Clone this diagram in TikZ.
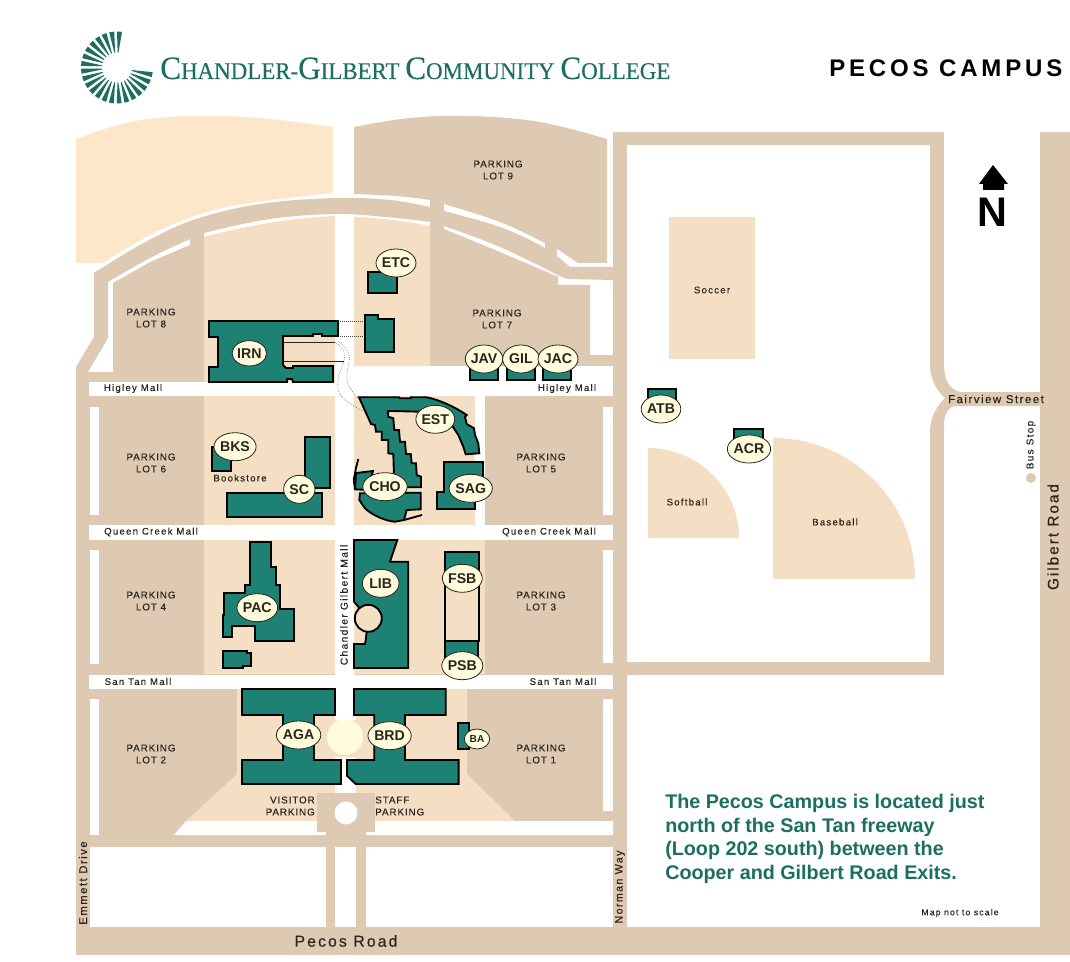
\documentclass[tikz,border=0pt]{standalone}
\usepackage{fontspec}
\usetikzlibrary{shapes.geometric}
\setmainfont{Liberation Sans}
\newfontfamily\lblf[LetterSpace=9,FakeBold=0.25]{Liberation Sans}
\newfontfamily\lblwf[LetterSpace=13,FakeBold=0.25]{Liberation Sans}
\newfontfamily\headf[LetterSpace=16]{Liberation Sans}
\newfontfamily\serf[FakeBold=0.2]{Liberation Serif}
\definecolor{tanroad}{HTML}{DEC9B2}
\definecolor{peach}{HTML}{F5DFC4}
\definecolor{peachlt}{HTML}{FEE6CB}
\definecolor{teal1}{HTML}{1D8173}
\definecolor{teal2}{HTML}{1C6F60}
\definecolor{cream}{HTML}{FFFBDD}
\definecolor{ink}{HTML}{2B241C}
\tikzset{
  roadfill/.style={fill=tanroad,draw=none},
  peachfill/.style={fill=peach,draw=none},
  whitefill/.style={fill=white,draw=none},
  bldg/.style={fill=teal1,draw=black,line width=1.4pt,line join=miter},
  tagel/.style={ellipse,draw=ink,line width=.6pt,fill=cream,inner sep=0pt,minimum width=27.5pt,minimum height=21pt,font=\fontsize{10.6}{12}\selectfont\bfseries,text=ink},
  tagsm/.style={tagel,minimum width=19pt,minimum height=15pt,font=\fontsize{7.6}{9}\selectfont\bfseries},
  lot/.style={align=center,text=ink,inner sep=0pt,font=\lblf\fontsize{7.4}{9}\selectfont},
  mall/.style={text=ink,inner sep=0pt,font=\lblwf\fontsize{7.2}{8}\selectfont},
}
\begin{document}
\begin{tikzpicture}[x=0.75pt,y=-0.75pt]
\useasboundingbox (0,0) rectangle (1070,962);
\fill[white] (0,0) rectangle (1070,962);
% top-left light lot
\fill[peachlt] (76,139) -- plot[smooth,tension=.6] coordinates {(76,139) (130,122) (190,116) (260,118) (333,127)} -- (333,193) -- plot[smooth,tension=.6] coordinates {(333,193) (227,207) (160,230) (103,263)} -- (76,263) -- cycle;
% lot 9
\fill[roadfill] (354,127) -- plot[smooth,tension=.6] coordinates {(354,127) (410,118) (470,116) (540,122) (607,139)} -- (607,263) -- (578,263) -- plot[smooth,tension=.6] coordinates {(578,263) (557,249) (545,243) (500,222) (444,204) (430,200) (395,196) (354,194)} -- cycle;
% ring road
\fill[roadfill] (76,372) -- (76,367) -- (94,337) -- (94,273) -- plot[smooth,tension=.6] coordinates {(94,273) (140,245) (193,220) (260,204) (335,198) (390,200) (430,207) (444,211) (500,227) (545,248) (570,267)} -- (613,267) -- (613,280) -- (568,279) -- plot[smooth,tension=.6] coordinates {(568,279) (558,275) (500,247) (444,226) (430,222) (385,217) (335,214) (270,219) (204,233) (190,239) (150,258) (108,282)} -- (108,338) -- (88,372) -- cycle;
% connectors through the road
\fill[roadfill] (430,198) rectangle (444,232);
\fill[roadfill] (545,241) rectangle (557,258);
% lot 8, lot 7
\fill[roadfill] (113,283) -- (150,262) -- (190,245) -- (190,233) -- (204,233) -- (204,382) -- (113,382) -- cycle;
\fill[roadfill] (430,226) -- (444,229) -- (500,252) -- (556,276) -- (558,276) -- (558,285) -- (590,285) -- (590,355) -- (613,355) -- (613,366) -- (430,366) -- cycle;
% campus base
\fill[roadfill] (76,372) rectangle (627,847);
\fill[roadfill] (76,847) rectangle (90,927);
\fill[roadfill] (613,847) rectangle (627,927);
\fill[roadfill] (76,927) rectangle (1070,955);
\fill[roadfill] (1040,132) rectangle (1070,927);
\fill[roadfill] (326,835) rectangle (335,927);
\fill[roadfill] (356,835) rectangle (366,927);
% field frame
\fill[roadfill] (613,132) rectangle (627,675);
\fill[roadfill] (613,132) rectangle (944,145);
\fill[roadfill] (613,662) rectangle (944,675);
\fill[roadfill] (930,132) rectangle (944,367);
\fill[roadfill] (930,430) rectangle (944,675);
\fill[roadfill] (930,365) .. controls (930,380) and (938,392) .. (945,398) .. controls (938,405) and (930,416) .. (930,432) -- (944,432) -- (944,425) .. controls (944,414) and (948,406) .. (957,406) -- (1040,406) -- (1040,392) -- (960,392) .. controls (950,390) and (944,380) .. (944,365) -- cycle;
% white rows
\fill[white] (89,382) rectangle (613,396);
\fill[white] (335,366) rectangle (613,396);
\fill[white] (89,525) rectangle (613,540);
\fill[white] (89,675) rectangle (613,689);
\fill[white] (90,407) rectangle (99,515);
\fill[white] (90,550) rectangle (99,664);
\fill[white] (90,699) rectangle (99,835);
\fill[white] (603,407) rectangle (613,515);
\fill[white] (603,550) rectangle (613,663);
\fill[white] (603,699) rectangle (613,811);
\fill[white] (335,382) rectangle (354,689);
\fill[white] (475,396) rectangle (485,525);
% peach blocks
\fill[peachfill] (204,237) .. controls (245,226) and (290,218) .. (335,216) -- (335,382) -- (204,382) -- cycle;
\fill[peachfill] (354,217) .. controls (380,218) and (405,221) .. (430,226) -- (430,366) -- (354,366) -- cycle;
\fill[peachfill] (204,396) rectangle (335,525);
\fill[peachfill] (354,396) rectangle (475,525);
\fill[peachfill] (204,540) rectangle (335,674);
\fill[peachfill] (354,540) rectangle (485,674);
\fill[peachfill] (237,689) -- (467,689) -- (467,774) -- (515,821) -- (186,821) -- (237,774) -- cycle;
\fill[white] (174,835) -- (186,821) -- (613,821) -- (613,835) -- cycle;
\fill[white] (335,689) rectangle (356,720);
\fill[white] (335,757) rectangle (356,793);
\fill[cream] (345,737) ellipse [x radius=18, y radius=18];
% plaza
\fill[roadfill] (317,793) rectangle (375,832);
\fill[roadfill] (326,832) rectangle (366,836);
\fill[white] (346,813) circle [radius=11.5];
% sports
\fill[peachfill] (669,217) rectangle (755,359);
\fill[peachfill] (648,538) -- (648,448) arc [start angle=90,end angle=0,x radius=91,y radius=-90] -- cycle;
\fill[peachfill] (773,579) -- (773,438) arc [start angle=90,end angle=0,x radius=142,y radius=-141] -- cycle;
\fill[roadfill] (1031,478) circle [radius=5];
% dotted links
\draw[densely dotted,line width=.5pt,black!75] (338,321) -- (365,321);
\draw[densely dotted,line width=.5pt,black!75] (338,336) -- (365,336);
\draw[densely dotted,line width=.4pt,black!70] plot[smooth,tension=.7] coordinates {(335,342) (343,350) (344,361) (338,380) (342,397) (365,412)};
\draw[densely dotted,line width=.4pt,black!70] plot[smooth,tension=.7] coordinates {(338,341) (349,355) (347,380) (357,397) (362,398)};
\draw[line width=.5pt,ink] (283,342) -- (335,342);
\draw[line width=.5pt,ink] (283,361) -- (344,361);
% buildings
\draw[bldg] (209,321) -- (338,321) -- (338,336) -- (322,336) -- (322,334) -- (313,334) -- (313,336) -- (283,336) -- (283,365) -- (286,368) -- (293,368) -- (293,366) -- (333,366) -- (333,382) -- (293,382) -- (292,379) -- (287,379) -- (287,382) -- (209,382) -- (209,367) -- (218,367) -- (218,337) -- (209,337) -- cycle;
\draw[bldg] (365,315) -- (378,315) -- (378,319) -- (394,319) -- (394,352) -- (365,352) -- cycle;
\draw[bldg] (368,272) rectangle (397,293);
\draw[bldg] (470,366) rectangle (498,380);
\draw[bldg] (507,366) rectangle (535,380);
\draw[bldg] (543,366) rectangle (571,380);
\draw[bldg] (648,389) rectangle (676,405);
\draw[bldg] (734,429) rectangle (763,445);
% EST
\draw[bldg] (359,397.3) -- (399.3,397.3) -- (400,398.3) -- (410.7,398.3) -- (410.7,397.3) -- (426.7,397.3) .. controls (440,400) and (455,407) .. (466.7,415) -- (465,416.7) -- (466.7,424) -- (474,428.3) -- (475,435) -- (478.3,443.3) -- (479.3,453.3) -- (465.7,454.3) -- (463.3,446.7) -- (458.3,435) -- (451.7,425) -- (433,415) -- (420,411.7) -- (391.7,411) -- (388,411) -- (388.3,416.7) -- (393.3,418.3) -- (394.3,430) -- (399,430) -- (400,441.7) -- (405,441.7) -- (406,454) -- (410.7,454) -- (411.7,463.3) -- (416,463.3) -- (416.7,475) -- (421,476.7) -- (421,487.3) -- (403.3,487.3) -- (394,476.7) -- (393.3,454) -- (388.3,453.3) -- (388.3,440) -- (381.7,440) -- (381.7,431.7) -- (376,431.7) -- (375,425) -- (371,424) -- cycle;
% CHO
\draw[bldg] (356,473) -- (373,471) -- (367,490) -- (355,489.3) -- cycle;
\draw[black,line width=1.4pt] (358.3,459) -- (356,468) -- (353.7,480) -- (355,489);
\draw[bldg] (360,493.3) -- (420.7,492.7) -- (420.7,509.3) -- (406.7,510) -- (404,520) -- (395,521.7) .. controls (385,521) and (372,515) .. (365,508.3) -- (359.3,500) -- cycle;
\draw[black,line width=1.4pt] (404,520) -- (422,515);
% SAG
\draw[bldg] (444.3,462.3) -- (482.7,462.3) -- (482.7,490) -- (475.3,490) -- (475.3,509.3) -- (436.7,509.3) -- (436.7,491.7) -- (444.3,491.7) -- cycle;
% SC, bookstore
\draw[bldg] (212.3,446.7) rectangle (230.7,470.7);
\draw[bldg] (305,436.7) rectangle (330,488.3);
\draw[bldg] (227.3,492.7) rectangle (321.7,517.3);
% PAC
\draw[bldg] (250,541.7) -- (271,541.7) -- (271,566.7) -- (275.7,566.7) -- (275.7,585) -- (280,585) -- (280,609) -- (294,609) -- (294,640.7) -- (255,640.7) -- (255,625.7) -- (232.3,625.7) -- (232.3,637.3) -- (222.7,637.3) -- (222.7,615) -- (224,615) -- (224,592.7) -- (245,592.7) -- (245,585) -- (250,585) -- cycle;
\draw[bldg] (223.3,650.7) -- (247.3,650.7) -- (247.3,652.7) -- (251,652.7) -- (251,665.7) -- (243.3,665.7) -- (243.3,668) -- (223.3,668) -- cycle;
% LIB
\draw[bldg] (354,540) -- (397.3,540) -- (390,561.7) -- (408.3,561.7) -- (408.3,668) -- (354,668) -- (354,644) -- (365,644) -- (365.7,640) -- (368.3,618.3) -- (354,601.7) -- cycle;
\draw[fill=peach,draw=black,line width=1.4pt] (368.3,618.3) circle [radius=13.5];
% FSB PSB
\draw[fill=peach,draw=black,line width=1.4pt] (445,552.3) rectangle (479,640.7);
\fill[teal1] (446,553.3) rectangle (478,578);
\draw[bldg] (445,640.7) rectangle (478,664);
% AGA BRD BA
\draw[bldg] (242,689) -- (335.4,689) -- (335.4,715) -- (313.6,715) -- (313.6,760) -- (340.7,760) -- (340.7,784) -- (242,784) -- (242,760) -- (283,760) -- (283,715) -- (242,715) -- cycle;
\draw[bldg] (354,689) -- (445.7,689) -- (445.7,715) -- (405,715) -- (405,760) -- (458.6,760) -- (458.6,784) -- (355.7,784) -- (347,775.7) -- (347,760) -- (374.3,760) -- (374.3,715) -- (354,715) -- cycle;
\draw[bldg] (458,722.7) rectangle (469,749);
% tags
\node[tagel,minimum width=25pt,minimum height=19pt] (irn) at (249.3,353.3) {IRN};
\node[tagel] (etc) at (396,263) {ETC};
\node[tagel] (jav) at (484,359) {JAV};
\node[tagel] (gil) at (521,359) {GIL};
\node[tagel] (jac) at (558,359) {JAC};
\node[tagel] (est) at (435.3,419.3) {EST};
\node[tagel] (bks) at (235,446.7) {BKS};
\node[tagel,minimum width=23.5pt] (sc) at (299.3,489.3) {SC};
\node[tagel,minimum width=26.5pt] (cho) at (385,486.7) {CHO};
\node[tagel,minimum width=24pt] (sag) at (470.7,488.3) {SAG};
\node[tagel] (pac) at (257.3,607.7) {PAC};
\node[tagel] (lib) at (380.7,583.3) {LIB};
\node[tagel] (fsb) at (462.3,578.3) {FSB};
\node[tagel] (psb) at (462.3,665.7) {PSB};
\node[tagel] (aga) at (298.6,735) {AGA};
\node[tagel] (brd) at (389.6,735.7) {BRD};
\node[tagsm] (ba) at (477,739) {BA};
\node[tagel] (atb) at (661,409) {ATB};
\node[tagel] (acr) at (749,449) {ACR};
% labels
\node[lot] (l9) at (498,170) {PARKING\\LOT 9};
\node[lot] (l8) at (151,318) {PARKING\\LOT 8};
\node[lot] (l7) at (497,319) {PARKING\\LOT 7};
\node[lot] (l6) at (151,463) {PARKING\\LOT 6};
\node[lot] (l5) at (541,463) {PARKING\\LOT 5};
\node[lot] (l4) at (151,601) {PARKING\\LOT 4};
\node[lot] (l3) at (541,601) {PARKING\\LOT 3};
\node[lot] (l2) at (151,754) {PARKING\\LOT 2};
\node[lot] (l1) at (541,754) {PARKING\\LOT 1};
\node[lot,align=right,anchor=east] (vis) at (315,806) {VISITOR\\PARKING};
\node[lot,align=left,anchor=west] (sta) at (375,806) {STAFF\\PARKING};
\node[mall] (hm1) at (133,388.5) {Higley Mall};
\node[mall] (hm2) at (567,388.5) {Higley Mall};
\node[mall] (qc1) at (151,532) {Queen Creek Mall};
\node[mall] (qc2) at (549,532) {Queen Creek Mall};
\node[mall] (st1) at (138,681.5) {San Tan Mall};
\node[mall] (st2) at (563,681.5) {San Tan Mall};
\node[mall,rotate=90,font=\lblwf\fontsize{7.7}{8}\selectfont] (cgm) at (344,605) {Chandler Gilbert Mall};
\node[mall] (bk) at (240,478) {Bookstore};
\node[mall] (soc) at (712,290) {Soccer};
\node[mall] (sof) at (687,502) {Softball};
\node[mall] (bas) at (835,522) {Baseball};
\node[mall,font=\lblwf\fontsize{8.6}{9}\selectfont] (fv) at (996,399) {Fairview Street};
\node[mall,rotate=90,font=\lblwf\fontsize{7.5}{9}\selectfont] (bus) at (1031,445) {Bus Stop};
\node[mall,rotate=90,font=\lblwf\fontsize{11.5}{12}\selectfont] (gil2) at (1053,537) {Gilbert Road};
\node[mall,rotate=90,font=\lblwf\fontsize{8.5}{9}\selectfont] (emm) at (83,883) {Emmett Drive};
\node[mall,rotate=90,font=\lblwf\fontsize{8}{9}\selectfont] (nor) at (620,887) {Norman Way};
\node[mall,font=\lblwf\fontsize{11.9}{12}\selectfont] (pec) at (346,941) {Pecos Road};
\node[mall,font=\lblwf\fontsize{6.5}{8}\selectfont] (scale) at (960,913) {Map not to scale};
\node[anchor=west,inner sep=0pt,align=left,text=teal2,font=\fontsize{14.8}{17.8}\selectfont\bfseries] (desc) at (665,839) {The Pecos Campus is located just\\north of the San Tan freeway\\(Loop 202 south) between the\\Cooper and Gilbert Road Exits.};
% header
\node[anchor=west,inner sep=0pt,font=\headf\bfseries\fontsize{18}{20}\selectfont,text=black] (head) at (829,68) {PECOS CAMPUS};
\node[anchor=base west,inner sep=0pt,text=teal2,xscale=.955,font=\serf\fontsize{18}{22}\selectfont] (coll) at (160,79) {{\fontsize{24.5}{26}\selectfont C}HANDLER-{\fontsize{24.5}{26}\selectfont G}ILBERT {\fontsize{24.5}{26}\selectfont C}OMMUNITY {\fontsize{24.5}{26}\selectfont C}OLLEGE};
% logo
\foreach \a in {86,98.5,...,356}{
  \fill[teal2] ({117+15*cos(\a-1.5)},{67.5-15*sin(\a-1.5)}) -- ({117+36*cos(\a-4)},{67.5-36*sin(\a-4)}) -- ({117+36*cos(\a+4)},{67.5-36*sin(\a+4)}) -- ({117+15*cos(\a+1.5)},{67.5-15*sin(\a+1.5)}) -- cycle;
}
% north arrow
\fill[black] (993,165) -- (1008,184) -- (1004,184) -- (1004,190) -- (983,190) -- (983,184) -- (979,184) -- cycle;
\node[inner sep=0pt,font=\bfseries\fontsize{31}{33}\selectfont] (north) at (992.5,212) {N};
\end{tikzpicture}
\end{document}
